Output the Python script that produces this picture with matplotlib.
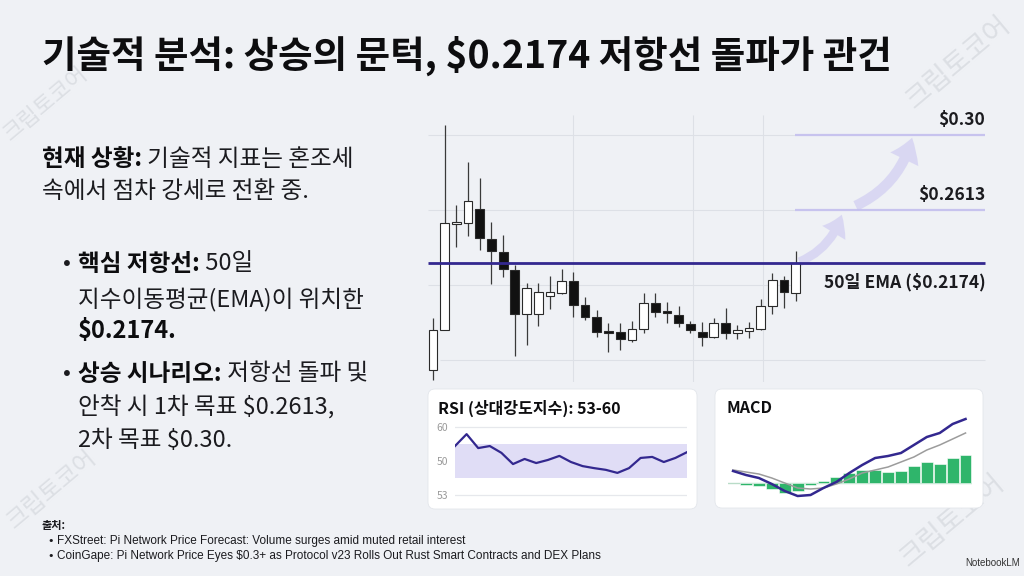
import numpy as np
import matplotlib
matplotlib.use("Agg")
import matplotlib.pyplot as plt
from matplotlib.patches import FancyBboxPatch, FancyArrowPatch
from matplotlib import font_manager

plt.rcParams['font.family'] = ['Noto Sans CJK KR', 'DejaVu Sans']

# ---- data (candles in chart units) ----
candle_open = [30, 70, 176, 177, 191, 161, 148, 130, 86, 86, 104, 107, 119, 95, 83, 69,
               68, 60, 71, 97, 89, 85, 76, 68, 63, 77, 67, 69, 71, 94, 120, 107]
candle_high = [82, 275, 195, 238, 222, 178, 165, 135, 117, 117, 124, 131, 128, 103, 90, 77,
               77, 79, 107, 107, 98, 94, 79, 78, 82, 92, 75, 78, 101, 127, 124, 149]
candle_low = [20, 70, 153, 164, 150, 116, 123, 44, 55, 74, 91, 106, 83, 80, 63, 48,
              50, 58, 67, 83, 77, 73, 67, 54, 62, 61, 61, 62, 70, 86, 92, 99]
candle_close = [70, 177, 178, 199, 162, 149, 131, 86, 112, 108, 108, 119, 95, 83, 68, 67,
                61, 71, 97, 88, 87, 77, 70, 63, 77, 67, 70, 72, 94, 120, 108, 137]

grid_levels = [265, 190, 115, 40]
grid_x = [12, 22.2, 28.2]
ema_level = 137
ema_label = "50일 EMA ($0.2174)"
target_levels = [190, 265]
target_labels = ["$0.2613", "$0.30"]

rsi_values = [54.4, 57.9, 53.8, 54.4, 52.4, 49.1, 50.6, 49.4, 50.3, 51.5, 49.7,
              48.5, 47.9, 47.4, 46.5, 47.9, 50.9, 51.2, 49.7, 50.9, 52.6]
rsi_band = (45, 55)
rsi_ticks = [60, 50, 40]
rsi_ticklabels = ["60", "50", "53"]
rsi_title = "RSI (상대강도지수): 53-60"

macd_line = [12, 8, 5, -1, -8, -13, -12, -5, 1, 10, 18, 25, 27, 30, 38, 46, 50, 59, 64]
macd_signal = [13, 11, 9, 5, 0, -5, -6, -5, -1, 4, 10, 13, 16, 21, 26, 33, 38, 44, 50]
macd_hist = [-2, -3, -6, -10, -8, -2, 2, 6, 10, 13, 13, 11, 12, 17, 21, 19, 25, 28]

title = "기술적 분석: 상승의 문턱, $0.2174 저항선 돌파가 관건"
sources = ["FXStreet: Pi Network Price Forecast: Volume surges amid muted retail interest",
           "CoinGape: Pi Network Price Eyes $0.3+ as Protocol v23 Rolls Out Rust Smart Contracts and DEX Plans"]

W, H = 1024, 576
bg = '#eff1f5'
ink = '#1b1b1f'
indigo = '#33288f'


def rect(x0, y0, x1, y1):
    return [x0 / W, 1 - y1 / H, (x1 - x0) / W, (y1 - y0) / H]


fig = plt.figure(figsize=(10.24, 5.76), dpi=100)
fig.patch.set_facecolor(bg)
# full-figure axes in pixel units for the slide text and cards
base = fig.add_axes([0, 0, 1, 1])
base.set_xlim(0, W)
base.set_ylim(H, 0)
base.axis('off')

# watermarks
for wx, wy, fs in [(46, 104, 16), (958, 62, 20), (52, 490, 17), (952, 520, 20)]:
    base.text(wx, wy, "크립토코어", rotation=40, fontsize=fs, color='#dcdfe4',
              ha='center', va='center', zorder=0)

base.text(42, 56, title, fontsize=27, weight='heavy', color='#0d0d0f', va='center')


def rich(x, y, parts, size=17):
    prev = None
    for txt, bold in parts:
        kw = dict(fontsize=size, color=ink if not bold else '#0d0d0f',
                  weight='bold' if bold else 'normal', va='center', ha='left')
        if prev is None:
            prev = base.text(x, y, txt, **kw)
        else:
            prev = base.annotate(txt, xy=(1, 0.5), xycoords=prev, **kw)


rich(42, 159, [("현재 상황:", True), (" 기술적 지표는 혼조세", False)])
rich(42, 191, [("속에서 점차 강세로 전환 중.", False)])
base.text(63, 264, "•", fontsize=17, color=ink, va='center')
rich(78, 264, [("핵심 저항선:", True), (" 50일", False)])
rich(78, 299, [("지수이동평균(EMA)이 위치한", False)])
rich(78, 331, [("$0.2174.", True)])
base.text(63, 374, "•", fontsize=17, color=ink, va='center')
rich(78, 374, [("상승 시나리오:", True), (" 저항선 돌파 및", False)])
rich(78, 408, [("안착 시 1차 목표 $0.2613,", False)])
rich(78, 441, [("2차 목표 $0.30.", False)])

# footer
names = {f.name for f in font_manager.fontManager.ttflist}
narrow = 'Liberation Sans Narrow' if 'Liberation Sans Narrow' in names else 'Liberation Sans'
base.text(42, 525, "출처:", fontsize=8, weight='bold', color=ink, va='center')
for i, s in enumerate(sources):
    yy = 541 + 15 * i
    base.text(47, yy, "•", fontsize=8, color=ink, va='center', family=['DejaVu Sans'])
    base.text(57, yy, s, fontsize=8.5, color=ink, va='center', family=[narrow, 'DejaVu Sans'])
base.text(1020, 563, "NotebookLM", fontsize=7, color='#333', va='center', ha='right',
          family=[narrow, 'DejaVu Sans'])

# cards behind the indicator panels
for x0, y0, x1, y1 in [(428, 389, 697, 509), (715, 389, 983, 508)]:
    base.add_patch(FancyBboxPatch((x0, y0), x1 - x0, y1 - y0,
                                  boxstyle='round,pad=0,rounding_size=7',
                                  facecolor='white', edgecolor='#e3e6eb', lw=0.6, zorder=1))
base.text(438, 408, rsi_title, fontsize=11.5, weight='bold', color='#0d0d0f', va='center', zorder=5)
base.text(726, 408, "MACD", fontsize=11.5, weight='bold', color='#0d0d0f', va='center', zorder=5)

# ---- candlestick chart ----
ax = fig.add_axes(rect(425, 112, 990, 382))
ax.set_facecolor('none')
ax.axis('off')
ax.set_xlim(-0.68, 47.6)
ax.set_ylim(18, 288)

ax.hlines(grid_levels[:3], -0.43, 30.9, color='#dde0e6', lw=0.8, zorder=0)
ax.hlines(grid_levels[3], 0.6, 47.2, color='#dde0e6', lw=0.8, zorder=0)
ax.vlines(grid_x, 18, 285, color='#dde0e6', lw=0.8, zorder=0)

o = np.array(candle_open)
c = np.array(candle_close)
x = np.arange(len(o))
up = c >= o
ax.vlines(x, candle_low, candle_high, color='#3a3a3a', lw=0.9, zorder=2)
ax.bar(x, np.maximum(np.abs(c - o), 1.5), bottom=np.minimum(o, c), width=0.75,
       color=np.where(up, 'white', '#111111'), edgecolor='#2a2a2a', lw=0.8, zorder=3)

ax.hlines(ema_level, -0.43, 47.2, color=indigo, lw=2, zorder=4)
ax.hlines(target_levels, 30.9, 47.2, color='#c7c3ee', lw=1.6, zorder=1)
for lvl, lab in zip(target_levels, target_labels):
    ax.annotate(lab, xy=(47.2, lvl), xytext=(0, 4), textcoords='offset points',
                ha='right', va='bottom', fontsize=12.5, weight='bold', color=ink)
ax.annotate(ema_label, xy=(47.2, ema_level), xytext=(0, -7), textcoords='offset points',
            ha='right', va='top', fontsize=12.5, weight='bold', color=ink)

# upward arrows between levels
arrow_spans = [((31.1, ema_level), (35.0, target_levels[0] - 2), 13),
               ((35.9, target_levels[0] + 3), (41.0, target_levels[1]), 15)]
for p0, p1, ms in arrow_spans:
    ax.add_patch(FancyArrowPatch(p0, p1, connectionstyle='arc3,rad=0.25',
                                 arrowstyle='simple,head_length=1.1,head_width=1.5,tail_width=0.5',
                                 mutation_scale=ms, facecolor='#c4bff0', edgecolor='none',
                                 alpha=0.5, zorder=2))

# ---- RSI panel ----
axr = fig.add_axes(rect(455, 423.6, 687, 498.4))
axr.set_facecolor('none')
axr.set_xlim(0, len(rsi_values) - 1)
axr.set_ylim(39, 61)
for s in axr.spines.values():
    s.set_visible(False)
axr.set_xticks([])
axr.set_yticks(rsi_ticks)
axr.set_yticklabels(rsi_ticklabels)
axr.tick_params(axis='y', length=0, pad=5, labelsize=7.5, labelcolor='#9a9a9a')
for t in rsi_ticks:
    axr.axhline(t, color='#e6e8ec', lw=0.9, zorder=0)
axr.axhspan(*rsi_band, color='#e0ddf6', lw=0, zorder=1)
axr.plot(np.arange(len(rsi_values)), rsi_values, color=indigo, lw=1.6, zorder=3)

# ---- MACD panel ----
axm = fig.add_axes(rect(728, 413, 972, 503))
axm.axis('off')
axm.set_xlim(-0.39, 18.5)
axm.set_ylim(-20, 70)
axm.axhline(0, color='#b9dcc8', lw=1, zorder=0)
axm.bar(np.arange(1, len(macd_hist) + 1), macd_hist, width=0.92, color='#2fb56b',
        edgecolor='white', lw=0.4, zorder=1)
axm.plot(np.arange(len(macd_signal)), macd_signal, color='#9c9c9c', lw=1.1, zorder=2)
axm.plot(np.arange(len(macd_line)), macd_line, color=indigo, lw=1.8, zorder=3)

fig.savefig("out.png", dpi=100, facecolor=fig.get_facecolor())
